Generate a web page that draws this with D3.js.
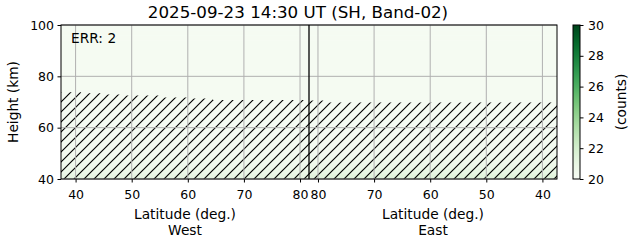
<!DOCTYPE html>
<html><head><meta charset="utf-8">
<script src="https://cdn.jsdelivr.net/npm/d3@7"></script>
<style>
body{margin:0;background:#fff}
text{font-family:"DejaVu Sans",sans-serif;fill:#000}
</style>
</head><body><svg id="c" width="631" height="243"></svg>
<script>
// ---------------- data ----------------
const titleText = "2025-09-23 14:30 UT (SH, Band-02)";
const errText = "ERR: 2";
const heightTicks = [40, 60, 80, 100];
const westLatTicks = [40, 50, 60, 70, 80];
const eastLatTicks = [80, 70, 60, 50, 40];
const colorTicks = [20, 22, 24, 26, 28, 30];
const westLatRange = [37.4, 81.6];
const eastLatRange = [81.6, 37.4];
const heightRange = [40, 100];
const colorRange = [20, 30];
// height bin edges (km)
const heightEdges = [40,42,44,46,48,50,52,54,56,58,60,62,64,66,68,70,72,74,76,78,80,82,84,86,88,90,92,94,96,98,100];
// mean counts per height bin (bottom -> top)
const westCounts = [21.0,20.75,20.55,20.42,20.34,20.28,20.24,20.22,20.2,20.19,20.18,20.18,20.17,20.17,20.17,20.17,20.17,20.17,20.17,20.17,20.17,20.17,20.17,20.17,20.17,20.17,20.17,20.17,20.17,20.17];
const eastCounts = [21.3,20.95,20.7,20.5,20.38,20.3,20.26,20.23,20.21,20.2,20.19,20.18,20.17,20.17,20.17,20.17,20.17,20.17,20.17,20.17,20.17,20.17,20.17,20.17,20.17,20.17,20.17,20.17,20.17,20.17];
// hatched (invalid) region: latitude bin edges and top height
const westCutLat = [37.4, 41, 44.5, 49, 55, 60, 64.5, 81.6];
const westCutHeight = [73.8, 73.4, 72.9, 72.5, 71.8, 71.4, 70.8];
const eastCutLat = [81.6, 79, 37.4];
const eastCutHeight = [70.6, 69.8];

// ---------------- layout ----------------
const svg = d3.select("#c");
const L = 61, R = 557, T = 25, B = 179, MID = 309;
const FS_TICK = "12.5px", FS_LABEL = "13.75px", FS_TITLE = "16.7px";
const xW = d3.scaleLinear().domain(westLatRange).range([L, MID]);
const xE = d3.scaleLinear().domain(eastLatRange).range([MID, R]);
const y = d3.scaleLinear().domain(heightRange).range([B, T]);
const cmap = d3.scaleSequential(d3.interpolateGreens).domain(colorRange);

const defs = svg.append("defs");
defs.append("clipPath").attr("id","clip").append("rect")
  .attr("x",L).attr("y",T).attr("width",R-L).attr("height",B-T);
const pat = defs.append("pattern").attr("id","hatch")
  .attr("patternUnits","userSpaceOnUse").attr("width",10).attr("height",10)
  .attr("x",3).attr("y",0);
pat.append("path").attr("d","M-1,1 L1,-1 M0,10 L10,0 M9,11 L11,9")
  .attr("stroke","#000").attr("stroke-width",1.15).attr("fill","none");

const plot = svg.append("g").attr("clip-path","url(#clip)");

// heatmap rows
const rows = d3.range(heightEdges.length-1);
plot.selectAll("rect.w").data(rows).join("rect").attr("class","w")
  .attr("x", xW(westLatRange[0])).attr("width", xW(westLatRange[1]) - xW(westLatRange[0]))
  .attr("y", i => y(heightEdges[i+1])).attr("height", i => y(heightEdges[i]) - y(heightEdges[i+1]) + 0.5)
  .attr("fill", i => cmap(westCounts[i]));
plot.selectAll("rect.e").data(rows).join("rect").attr("class","e")
  .attr("x", xE(eastLatRange[0])).attr("width", xE(eastLatRange[1]) - xE(eastLatRange[0]))
  .attr("y", i => y(heightEdges[i+1])).attr("height", i => y(heightEdges[i]) - y(heightEdges[i+1]) + 0.5)
  .attr("fill", i => cmap(eastCounts[i]));

// hatched regions
function stepPoly(lats, hs, xs){
  const pts = [[xs(lats[0]), y(heightRange[0])]];
  hs.forEach((h,i)=>{ pts.push([xs(lats[i]), y(h)]); pts.push([xs(lats[i+1]), y(h)]); });
  pts.push([xs(lats[lats.length-1]), y(heightRange[0])]);
  return "M" + pts.map(p=>p.join(",")).join("L") + "Z";
}
plot.append("path").attr("d", stepPoly(westCutLat, westCutHeight, xW)).attr("fill","url(#hatch)");
plot.append("path").attr("d", stepPoly(eastCutLat, eastCutHeight, xE)).attr("fill","url(#hatch)");

// grid
const grid = svg.append("g").attr("stroke","#b0b0b0").attr("stroke-width",1);
westLatTicks.forEach(t => grid.append("line").attr("x1",xW(t)).attr("x2",xW(t)).attr("y1",T).attr("y2",B));
eastLatTicks.forEach(t => grid.append("line").attr("x1",xE(t)).attr("x2",xE(t)).attr("y1",T).attr("y2",B));
heightTicks.forEach(t => grid.append("line").attr("x1",L).attr("x2",R).attr("y1",y(t)).attr("y2",y(t)));

// divider line
svg.append("line").attr("x1",MID).attr("x2",MID).attr("y1",T).attr("y2",B)
  .attr("stroke","#000").attr("stroke-width",1.3);

// frame
svg.append("rect").attr("x",L).attr("y",T).attr("width",R-L).attr("height",B-T)
  .attr("fill","none").attr("stroke","#000").attr("stroke-width",1);

// axes
function styleAxis(g){
  g.select(".domain").remove();
  g.selectAll("line").attr("stroke","#000").attr("stroke-width",1);
  g.selectAll("text").style("font-family","DejaVu Sans").style("font-size",FS_TICK).attr("fill","#000");
}
svg.append("g").attr("transform",`translate(0,${B})`)
  .call(d3.axisBottom(xW).tickValues(westLatTicks).tickSize(3.5).tickPadding(7.5).tickFormat(d3.format("d")))
  .call(styleAxis);
svg.append("g").attr("transform",`translate(0,${B})`)
  .call(d3.axisBottom(xE).tickValues(eastLatTicks).tickSize(3.5).tickPadding(7.5).tickFormat(d3.format("d")))
  .call(styleAxis);
svg.append("g").attr("transform",`translate(${L},0)`)
  .call(d3.axisLeft(y).tickValues(heightTicks).tickSize(3.5).tickPadding(3.5).tickFormat(d3.format("d")))
  .call(styleAxis);

// colorbar
const CL = 573, CR = 580;
const cy = d3.scaleLinear().domain(colorRange).range([B, T]);
const grad = defs.append("linearGradient").attr("id","cg").attr("x1",0).attr("x2",0).attr("y1",1).attr("y2",0);
d3.range(0, 1.0001, 0.05).forEach(f => grad.append("stop").attr("offset",f)
  .attr("stop-color", cmap(colorRange[0] + f*(colorRange[1]-colorRange[0]))));
svg.append("rect").attr("x",CL).attr("y",T).attr("width",CR-CL).attr("height",B-T)
  .attr("fill","url(#cg)").attr("stroke","#000").attr("stroke-width",1);
svg.append("g").attr("transform",`translate(${CR},0)`)
  .call(d3.axisRight(cy).tickValues(colorTicks).tickSize(3.5).tickPadding(4.5).tickFormat(d3.format("d")))
  .call(styleAxis);

// texts
svg.append("text").attr("x",298).attr("y",17.5).attr("text-anchor","middle")
  .style("font-size",FS_TITLE).text(titleText);
svg.append("text").attr("x",71).attr("y",43).style("font-size",FS_LABEL).text(errText);
svg.append("text").attr("transform",`translate(17.5,${(T+B)/2}) rotate(-90)`).attr("text-anchor","middle")
  .style("font-size",FS_LABEL).text("Height (km)");
svg.append("text").attr("x",(L+MID)/2).attr("y",219).attr("text-anchor","middle").style("font-size",FS_LABEL).text("Latitude (deg.)");
svg.append("text").attr("x",(L+MID)/2).attr("y",235).attr("text-anchor","middle").style("font-size",FS_LABEL).text("West");
svg.append("text").attr("x",(MID+R)/2).attr("y",219).attr("text-anchor","middle").style("font-size",FS_LABEL).text("Latitude (deg.)");
svg.append("text").attr("x",(MID+R)/2).attr("y",235).attr("text-anchor","middle").style("font-size",FS_LABEL).text("East");
svg.append("text").attr("transform",`translate(626,${(T+B)/2}) rotate(-90)`).attr("text-anchor","middle")
  .style("font-size",FS_LABEL).text("(counts)");
</script></body></html>
